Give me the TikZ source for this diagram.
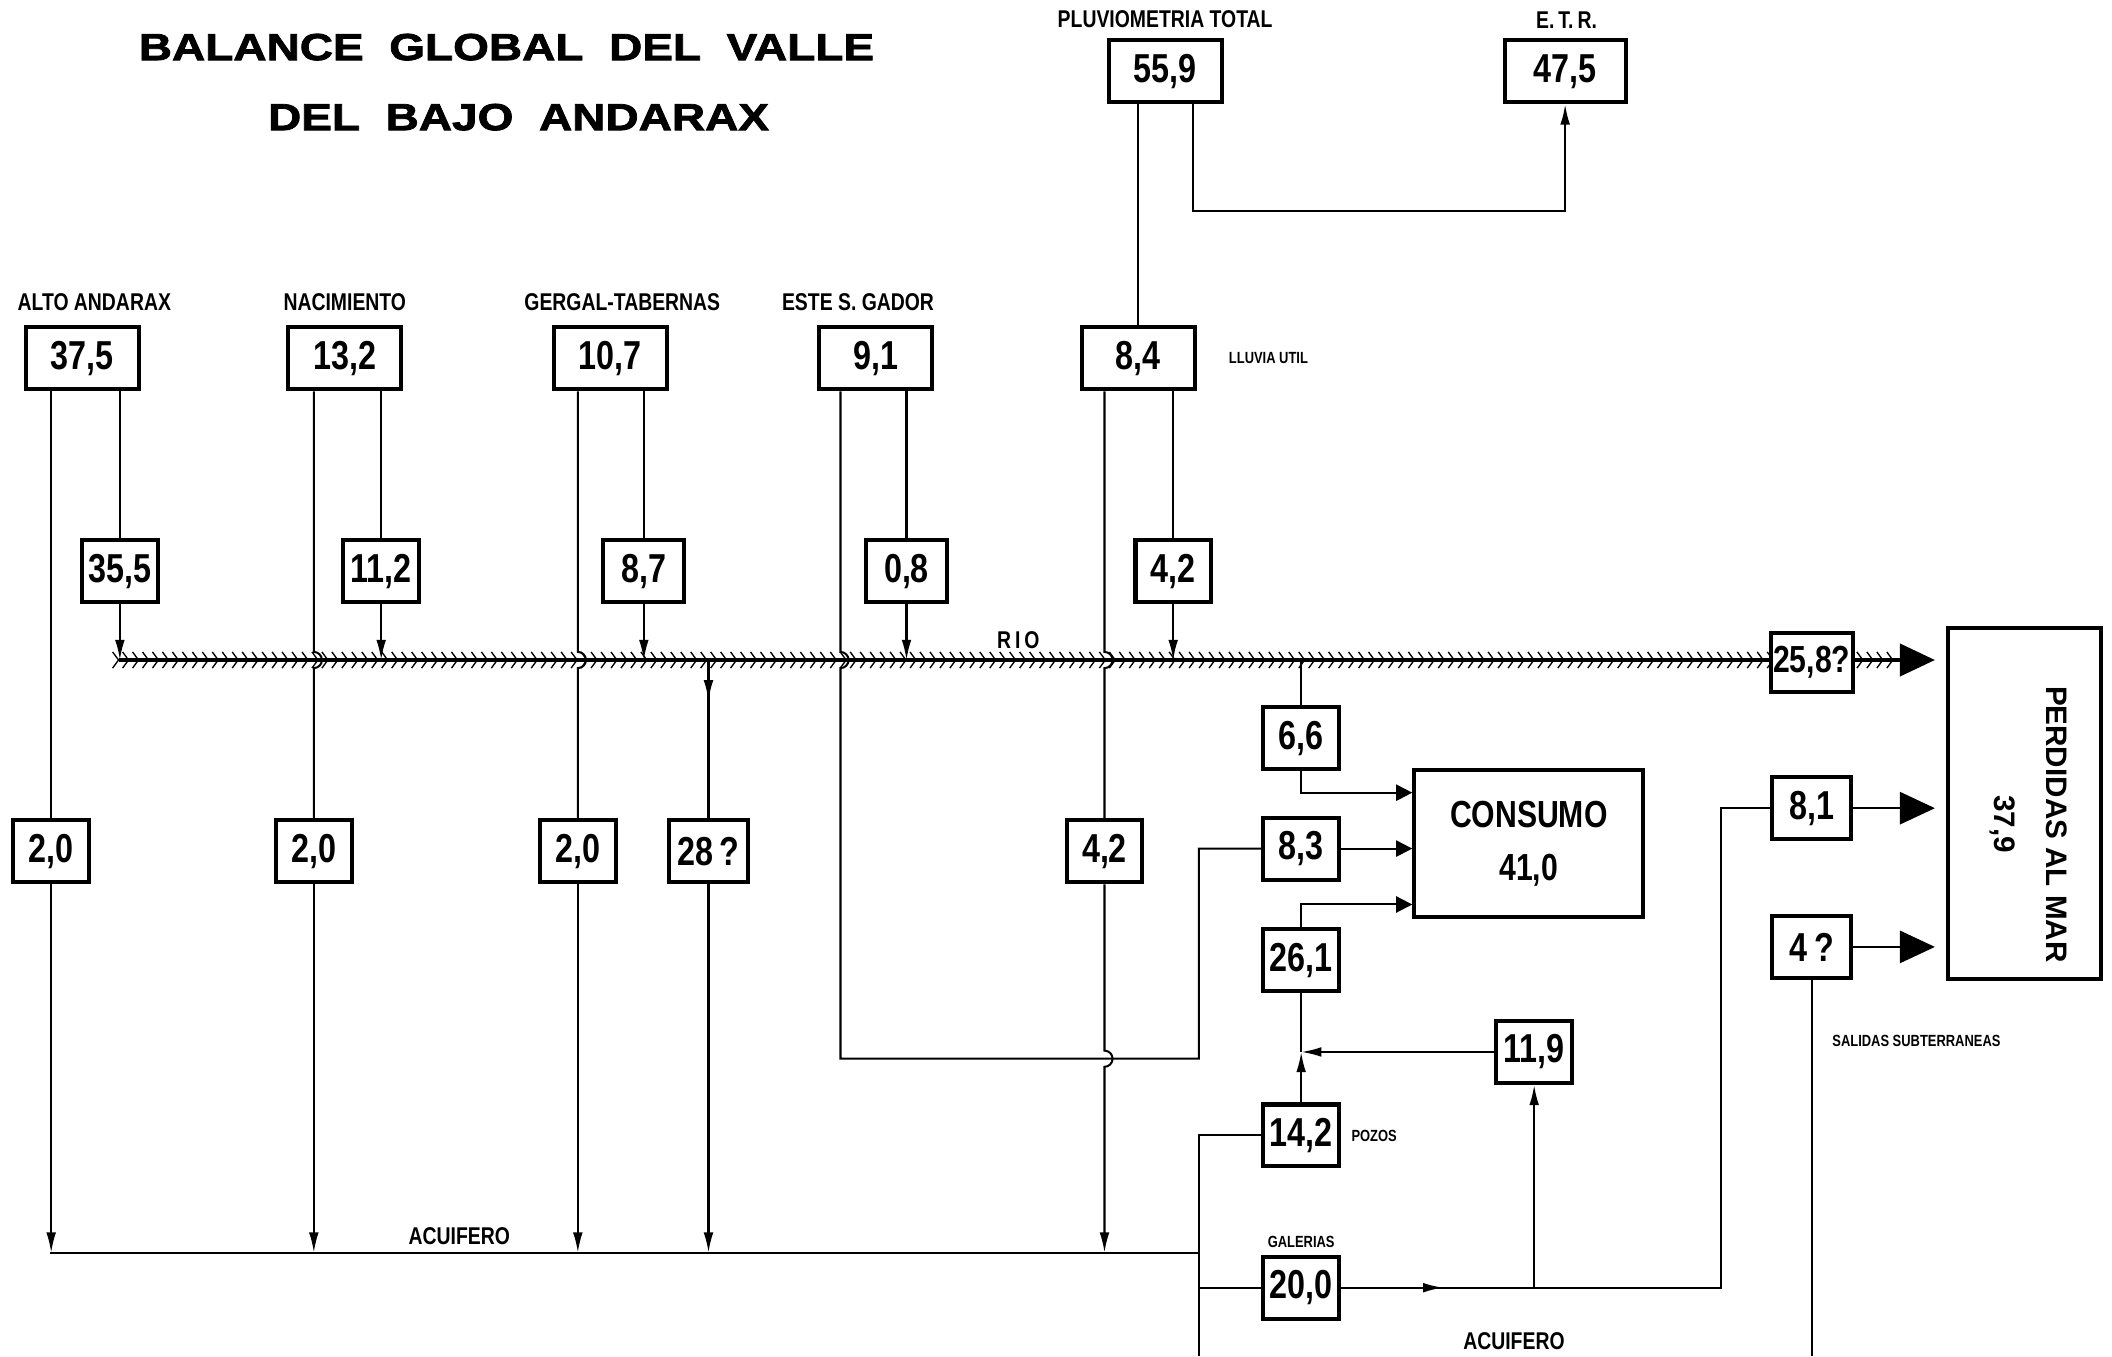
\documentclass[tikz,border=0pt]{standalone}
\usepackage{fontspec}
\setmainfont{Liberation Sans}
\newfontfamily\condfont[FakeStretch=0.8]{Liberation Sans}
\newfontfamily\widefont[FakeStretch=1.22,FakeBold=2]{Liberation Sans}
\usetikzlibrary{arrows.meta,calc,decorations.markings}

\begin{document}
\begin{tikzpicture}[x=0.5pt,y=-0.5pt,
  box/.style={draw,line width=1.5pt,fill=white,minimum width=42pt,minimum height=23pt,inner sep=0pt,font=\condfont\bfseries\fontsize{15}{15}\selectfont},
  sbox/.style={box,minimum width=28pt},
  lbl/.style={inner sep=0pt,font=\condfont\bfseries\fontsize{9}{10}\selectfont},
  note/.style={inner sep=0pt,font=\condfont\bfseries\fontsize{6}{7}\selectfont},
  flow/.style={line width=0.75pt},
  arr/.style={flow,-{Latex[length=7.5pt,width=3.6pt]}},
  conarr/.style={flow,-{Triangle[length=6pt,width=6pt]}},
  bigarr/.style={-{Triangle[length=13pt,width=12pt]},shorten >=4pt},
  midarr/.style={postaction={decorate,decoration={markings,mark=at position #1 with {\arrow{Latex[length=7.5pt,width=3.6pt]}}}}},
  rio/.style={line width=1.2pt,postaction={decorate,decoration={markings,mark=between positions 0 and -17pt step 3.7pt with {\draw[-,shorten >=0pt,line width=0.5pt] (-2.2pt,3pt) -- (0pt,0pt) -- (-2.2pt,-3pt);}}}}]
  \useasboundingbox (0,0) rectangle (1568,1007);
  \node[font=\widefont\bfseries\fontsize{14}{15}\selectfont] (tit1) at (376,35) {BALANCE\ \ GLOBAL\ \ DEL\ \ VALLE};
  \node[font=\widefont\bfseries\fontsize{14}{15}\selectfont] (tit2) at (385,87) {DEL\ \ BAJO\ \ ANDARAX};

  \node[lbl] (lplu) at (865,14) {PLUVIOMETRIA TOTAL};
  \node[lbl] (letr) at (1163,15) {E.\,T.\,R.};
  \node[box] (plu) at (865,53) {55,9};
  \node[box,minimum width=45pt] (etr) at (1162,53) {47,5};

  \node[lbl] (lalto) at (70,224) {ALTO ANDARAX};
  \node[lbl] (lnac) at (256,224) {NACIMIENTO};
  \node[lbl] (lger) at (462,224) {GERGAL-TABERNAS};
  \node[lbl] (leste) at (637,224) {ESTE S. GADOR};
  \node[box] (alto) at (61,266) {37,5};
  \node[box] (nac) at (256,266) {13,2};
  \node[box] (ger) at (453,266) {10,7};
  \node[box] (este) at (650,266) {9,1};
  \node[box] (llu) at (845,266) {8,4};
  \node[note,anchor=west] (lllu) at (912,266) {LLUVIA UTIL};

  \node[sbox] (r1) at (89,424) {35,5};
  \node[sbox] (r2) at (283,424) {11,2};
  \node[sbox,minimum width=30pt] (r3) at (478,424) {8,7};
  \node[sbox,minimum width=30pt] (r4) at (673,424) {0,8};
  \node[sbox] (r5) at (871,424) {4,2};

  \node[sbox] (a1) at (38,632) {2,0};
  \node[sbox] (a2) at (233,632) {2,0};
  \node[sbox] (a3) at (429,632) {2,0};
  \node[sbox,minimum width=29pt] (a4) at (526,632) {28\,?};
  \node[sbox] (a5) at (820,632) {4,2};

  \node[sbox] (c66) at (966,548) {6,6};
  \node[sbox] (c83) at (966,630) {8,3};
  \node[sbox] (c261) at (966,713) {26,1};
  \node[sbox] (c119) at (1139,781) {11,9};
  \node[sbox] (c142) at (966,843) {14,2};
  \node[note,anchor=west] (lpoz) at (1003,843) {POZOS};
  \node[note] (lgal) at (966,922) {GALERIAS};
  \node[sbox] (c200) at (966,956) {20,0};
  \node[box,minimum width=85pt,minimum height=54.5pt,align=center,font=\condfont\bfseries\fontsize{14}{19.5}\selectfont] (cons) at (1135,626.5) {CONSUMO\\41,0};
  \node[sbox,minimum width=29.5pt] (c81) at (1345,600) {8,1};
  \node[sbox,minimum width=29.5pt] (c4) at (1345,703) {4\,?};
  \node[note,anchor=west] (lsal) at (1360,773) {SALIDAS SUBTERRANEAS};
  \node[box,minimum width=57pt,minimum height=130.5pt] (mar) at (1503,596.5) {};
  \node[rotate=-90,align=center,inner sep=0pt,font=\bfseries\fontsize{11}{19}\selectfont] (tmar) at (1506,612) {PERDIDAS AL MAR\\37,9};

  \coordinate (rio) at (88,490);
  \coordinate (aq) at (37,930);
  \coordinate (k1) at (624,786);
  \coordinate (k2) at (890,786);
  \coordinate (k3) at (890,1007);
  \coordinate (k4) at (1278,956);

  \draw[rio,bigarr] (rio) -- (rio -| mar.west);
  \node[sbox,minimum width=30.5pt,minimum height=22pt,font=\condfont\bfseries\fontsize{14}{14}\selectfont] (c258) at (1345,492) {25,8?};
  \node[lbl] (lrio) at (756,475) {R\,I\,O};

  \draw[flow] (plu.south -| llu.north) -- (llu.north);
  \draw[arr] ([xshift=10.5pt]plu.south) -- ++(0,79) -| (etr.south);

  \draw[flow] (alto.south -| r1) -- (r1);
  \draw[arr] (r1) -- (r1 |- rio);
  \draw[flow] (nac.south -| r2) -- (r2);
  \draw[arr] (r2) -- (r2 |- rio);
  \draw[flow] (ger.south -| r3) -- (r3);
  \draw[arr] (r3) -- (r3 |- rio);
  \draw[flow] (este.south -| r4) -- (r4);
  \draw[arr] (r4) -- (r4 |- rio);
  \draw[flow] (llu.south -| r5) -- (r5);
  \draw[arr] (r5) -- (r5 |- rio);

  \draw[flow] (alto.south -| a1) -- (a1);
  \draw[arr] (a1) -- (a1 |- aq);
  \draw[flow] (nac.south -| a2) -- ($(a2 |- rio)+(0,-6)$) arc[start angle=90,end angle=-90,radius=3pt] -- (a2);
  \draw[arr] (a2) -- (a2 |- aq);
  \draw[flow] (ger.south -| a3) -- ($(a3 |- rio)+(0,-6)$) arc[start angle=90,end angle=-90,radius=3pt] -- (a3);
  \draw[arr] (a3) -- (a3 |- aq);
  \draw[flow] (este.south -| k1) -- ($(k1 |- rio)+(0,-6)$) arc[start angle=90,end angle=-90,radius=3pt] -- (k1) -- (k2) |- (c83);
  \draw[conarr] (c83) -- (c83 -| cons.west);
  \draw[flow] (llu.south -| a5) -- ($(a5 |- rio)+(0,-6)$) arc[start angle=90,end angle=-90,radius=3pt] -- (a5);
  \draw[arr] (a5) -- ($(a5 |- k1)+(0,-6)$) arc[start angle=90,end angle=-90,radius=3pt] -- (a5 |- aq);
  \draw[flow,midarr=15pt] (a4 |- rio) -- (a4);
  \draw[arr] (a4) -- (a4 |- aq);

  \draw[flow] (aq) -- (aq -| k3);
  \node[lbl] (laq) at (341,918) {ACUIFERO};

  \draw[flow] (c66 |- rio) -- (c66);
  \draw[conarr] (c66) |- ([yshift=-9pt]cons.north west);
  \draw[conarr] (c261) |- ([yshift=5.5pt]cons.south west);
  \coordinate (j) at (c261 |- c119);
  \draw[flow] (j) -- (c261);
  \draw[arr] (c142) -- (j);
  \draw[arr] (c119) -- (j);
  \draw[flow] (c142) -| (k3);
  \draw[flow] (c200 -| k3) -- (c200);
  \draw[flow,midarr=38pt] (c200) -- (k4) |- (c81);
  \draw[arr] (c200 -| c119) -- (c119);
  \draw[flow,bigarr] (c81) -- (c81 -| mar.west);
  \draw[flow,bigarr] (c4) -- (c4 -| mar.west);
  \draw[flow] (c4) -- (c4 |- k3);
  \node[lbl] (laq2) at (1124,996) {ACUIFERO};
\end{tikzpicture}
\end{document}
